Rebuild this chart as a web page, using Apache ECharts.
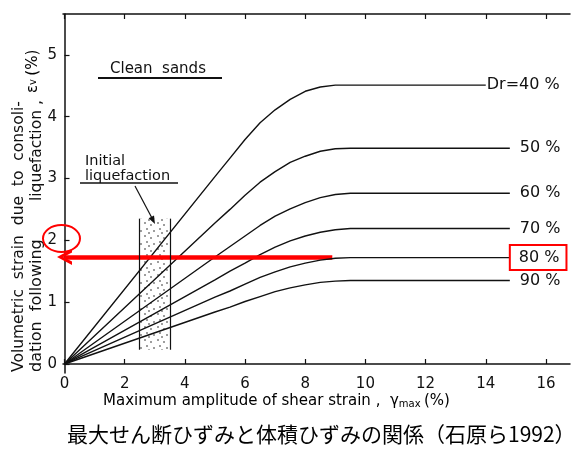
<!DOCTYPE html>
<html><head><meta charset="utf-8">
<script src="https://cdn.jsdelivr.net/npm/echarts@6/dist/echarts.min.js"></script>
<style>html,body{margin:0;padding:0;background:#fff}#c{width:575px;height:453px}</style>
</head><body><div id="c"></div>
<script>
// ---- data ----
const shearX = [0, 5, 5.5, 6, 6.5, 7, 7.5, 8, 8.5, 9, 9.5, 10];
const dr40 = [0, 3.03, 3.33, 3.63, 3.90, 4.11, 4.28, 4.41, 4.48, 4.51, 4.51, 4.51];
const dr50 = [0, 2.28, 2.50, 2.73, 2.94, 3.11, 3.26, 3.36, 3.44, 3.48, 3.49, 3.49];
const dr60 = [0, 1.73, 1.90, 2.07, 2.24, 2.39, 2.51, 2.61, 2.69, 2.74, 2.76, 2.76];
const dr70 = [0, 1.36, 1.50, 1.63, 1.77, 1.89, 1.99, 2.07, 2.13, 2.17, 2.19, 2.19];
const dr80 = [0, 1.08, 1.18, 1.29, 1.40, 1.49, 1.57, 1.63, 1.68, 1.71, 1.72, 1.72];
const dr90 = [0, 0.84, 0.92, 1.01, 1.09, 1.17, 1.23, 1.28, 1.32, 1.34, 1.35, 1.35];
const lineEndX = [14.0, 14.8, 14.8, 14.8, 14.8, 14.8];
const drLabels = ['Dr=40 %', '50 %', '60 %', '70 %', '80 %', '90 %'];
const xTicks = [0, 2, 4, 6, 8, 10, 12, 14, 16];
const yTicks = [0, 1, 2, 3, 4, 5];
const bandX = [2.5, 3.5];          // initial liquefaction band (shear strain %)
const bandY = [0.23, 2.35];
const arrowY = 1.73;               // red arrow level (80% plateau)
const arrowX = [8.9, 0];

const chart = echarts.init(document.getElementById('c'), null, {renderer: 'canvas'});

// dotted pattern for the band
const pc = document.createElement('canvas'); pc.width = 13; pc.height = 13;
const pctx = pc.getContext('2d');
pctx.fillStyle = '#222';
[[2, 2], [8, 4], [4, 8], [11, 10], [6, 12]].forEach(([a, b]) => { pctx.beginPath(); pctx.arc(a, b, 0.8, 0, Math.PI * 2); pctx.fill(); });

const FONT = 'DejaVu Sans';
const curves = [dr40, dr50, dr60, dr70, dr80, dr90];
const series = curves.map((vals, i) => ({
  type: 'line',
  name: drLabels[i],
  data: shearX.map((x, j) => [x, vals[j]]).concat([[lineEndX[i], vals[vals.length - 1]]]),
  showSymbol: false, symbol: 'none',
  smooth: false,
  lineStyle: {color: '#111', width: 1.4},
  endLabel: {
    show: true, formatter: drLabels[i], distance: i === 0 ? 1 : 10,
    fontFamily: FONT, fontSize: 16, color: '#111'
  },
  silent: true, z: 2
}));
// 80% label boxed in red
Object.assign(series[4].endLabel, {borderColor: '#ff0000', borderWidth: 2, padding: [5, 7, 4, 9], distance: 0});
series[4].z = 5;
series[4].markLine = {
  silent: true, animation: false,
  symbol: ['none', 'path://M0,14 L7,0 L14,14 L11,14 L7,6 L3,14 Z'],
  symbolSize: [16, 15],
  label: {show: false},
  lineStyle: {color: '#ff0000', width: 4.5, type: 'solid'},
  itemStyle: {color: '#ff0000'},
  data: [[{coord: [arrowX[0], arrowY]}, {coord: [arrowX[1], arrowY]}]]
};
series[5].markArea = {
  silent: true,
  itemStyle: {color: {image: pc, repeat: 'repeat'}, borderWidth: 0},
  data: [[{xAxis: bandX[0], yAxis: bandY[0]}, {xAxis: bandX[1], yAxis: bandY[1]}]]
};
series[5].markLine = {
  silent: true, animation: false, symbol: 'none', label: {show: false},
  lineStyle: {color: '#111', width: 1.2, type: 'solid'},
  data: [
    [{coord: [bandX[0], bandY[0]]}, {coord: [bandX[0], bandY[1]]}],
    [{coord: [bandX[1], bandY[0]]}, {coord: [bandX[1], bandY[1]]}]
  ]
};

const axisLine = {show: true, lineStyle: {color: '#111', width: 1.5}};
const vt = (x, y, text, size) => ({type: 'text', x: x, y: y, rotation: Math.PI / 2,
  style: {text: text, font: size + 'px "DejaVu Sans"', fill: '#111', textAlign: 'left', textVerticalAlign: 'middle'}});
chart.setOption({
  animation: false,
  backgroundColor: '#fff',
  grid: {left: 63, right: 5, top: 14, bottom: 80, containLabel: false},
  xAxis: [{
    type: 'value', min: -0.05, max: 16.8, position: 'bottom',
    axisLine: axisLine,
    axisTick: {show: true, inside: true, length: 5, customValues: xTicks, lineStyle: {color: '#111', width: 1.2}},
    axisLabel: {customValues: xTicks, fontFamily: FONT, fontSize: 15, color: '#111', margin: 4},
    splitLine: {show: false}
  }, {
    type: 'value', min: -0.05, max: 16.8, position: 'top',
    axisLine: axisLine,
    axisTick: {show: true, inside: true, length: 5, customValues: xTicks, lineStyle: {color: '#111', width: 1.2}},
    axisLabel: {show: false},
    splitLine: {show: false}
  }],
  yAxis: {
    type: 'value', min: -0.146, max: 5.66,
    axisLine: axisLine,
    axisTick: {show: true, inside: true, length: 5, customValues: yTicks, lineStyle: {color: '#111', width: 1.2}},
    axisLabel: {customValues: yTicks, fontFamily: FONT, fontSize: 15, color: '#111', margin: 6},
    splitLine: {show: false}
  },
  series: series,
  graphic: [
    // y axis title (rotated)
    vt(19, 372, 'Volumetric  strain  due  to  consoli-', 15.5),
    vt(37, 372, 'dation  following', 16),
    vt(37, 201, 'liquefaction ,', 15.5),
    {type: 'text', x: 33, y: 93, rotation: Math.PI / 2,
     style: {text: '{e|ε}{s|v} {e|(%)}', rich: {e: {fontFamily: FONT, fontSize: 15, color: '#111'}, s: {fontFamily: FONT, fontSize: 10, color: '#111'}}, textAlign: 'left', textVerticalAlign: 'middle'}},
    // x axis title
    {type: 'text', x: 103, y: 401,
     style: {text: '{t|Maximum amplitude of shear strain ,  γ}{s|max} {t|(%)}', rich: {t: {fontFamily: FONT, fontSize: 15, color: '#111'}, s: {fontFamily: FONT, fontSize: 10, color: '#111', padding: [6, 0, 0, 0]}}, textAlign: 'left', textVerticalAlign: 'middle'}},
    // caption
    {type: 'text', x: 67, y: 434,
     style: {text: '最大せん断ひずみと体積ひずみの関係（石原ら1992）', font: '21px "Noto Sans CJK JP"', fill: '#000', textAlign: 'left', textVerticalAlign: 'middle'}},
    // Clean sands
    {type: 'text', x: 110, y: 69, style: {text: 'Clean  sands', font: '15px "DejaVu Sans"', fill: '#111', textAlign: 'left', textVerticalAlign: 'middle'}},
    {type: 'line', shape: {x1: 98, y1: 78, x2: 222, y2: 78}, style: {stroke: '#111', lineWidth: 2}},
    // Initial liquefaction
    {type: 'text', x: 85, y: 161, style: {text: 'Initial', font: '14.5px "DejaVu Sans"', fill: '#111', textAlign: 'left', textVerticalAlign: 'middle'}},
    {type: 'text', x: 85, y: 176, style: {text: 'liquefaction', font: '14.5px "DejaVu Sans"', fill: '#111', textAlign: 'left', textVerticalAlign: 'middle'}},
    {type: 'line', shape: {x1: 80, y1: 183, x2: 178, y2: 183}, style: {stroke: '#111', lineWidth: 1.4}},
    {type: 'line', shape: {x1: 135, y1: 186, x2: 153, y2: 220}, style: {stroke: '#111', lineWidth: 1.2}},
    {type: 'polygon', shape: {points: [[155, 224], [148.6, 218.3], [154, 215.5]]}, style: {fill: '#111'}},
    // red ellipse around the "2" label
    {type: 'ellipse', shape: {cx: 61.5, cy: 238.5, rx: 18.5, ry: 13.5}, style: {stroke: '#ff0000', fill: null, lineWidth: 2}, z: 10}
  ]
});
</script></body></html>
